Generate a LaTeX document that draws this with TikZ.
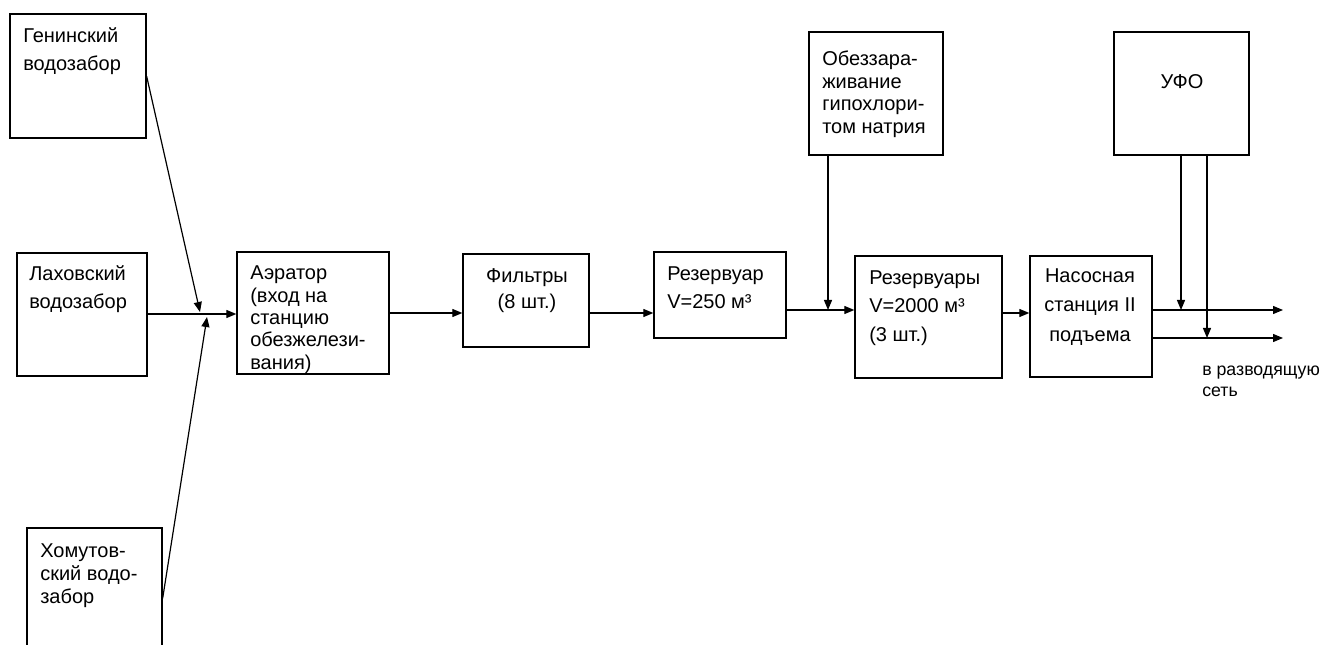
\documentclass[tikz,border=0pt]{standalone}
\usepackage{fontspec}
\setmainfont{Liberation Sans}
\usetikzlibrary{arrows.meta,fit}
\tikzset{
  box/.style={draw, line width=1pt, inner sep=0pt},
  txt/.style={inner sep=0pt, anchor=base west, align=left, font=\fontsize{15}{#1}\selectfont},
  txt/.default=18,
  ctxt/.style={inner sep=0pt, anchor=base, align=center, font=\fontsize{15}{#1}\selectfont},
  ctxt/.default=18,
  arr/.style={line width=0.9pt, -{Triangle[length=7.5pt,width=6pt]}}
}
\begin{document}
\begin{tikzpicture}[x=0.75pt,y=-0.75pt]
\useasboundingbox (0,0) rectangle (1321,645);
% boxes
\node[box, fit={(10,14)(146,138)}] (gen) {};
\node[box, fit={(17,253)(147,376)}] (lax) {};
\node[box, fit={(27,528)(162,660)}] (hom) {};
\node[box, fit={(237,252)(389,374)}] (aer) {};
\node[box, fit={(463,254)(589,347)}] (fil) {};
\node[box, fit={(654,252)(786,338)}] (res1) {};
\node[box, fit={(809,32)(943,155)}] (obz) {};
\node[box, fit={(855,256)(1002,378)}] (res2) {};
\node[box, fit={(1030,256)(1152,377)}] (nas) {};
\node[box, fit={(1114,32)(1249,155)}] (ufo) {};
% texts (anchored at the baseline of the last line)
\node[txt=21] (tgen) at (23,71) {Генинский\\водозабор};
\node[txt=21] (tlax) at (29,309) {Лаховский\\водозабор};
\node[txt=17.25] (thom) at (40,603) {Хомутов-\\ский водо-\\забор};
\node[txt=16.75] (taer) at (250,369) {Аэратор\\(вход на\\станцию\\обезжелези-\\вания)};
\node[ctxt=19.5] (tfil) at (527,309) {Фильтры\\(8 шт.)};
\node[txt=21] (tres1) at (667,309) {Резервуар\\V=250 м³};
\node[txt=16.9] (tobz) at (822,133.5) {Обеззара-\\живание\\гипохлори-\\том натрия};
\node[ctxt] (tufo) at (1182,89) {УФО};
\node[txt=21.75] (tres2) at (869,342) {Резервуары\\V=2000 м³\\(3 шт.)};
\node[ctxt=22] (tnas) at (1090,341) {Насосная\\станция II\\подъема};
\node[inner sep=0pt, anchor=base west, align=left, font=\fontsize{13.3}{16.5}\selectfont] (tout) at (1202,397) {в разводящую\\сеть};
% junction and helper coordinates
\coordinate (j1) at (200,312);
\coordinate (j2) at (207,317);
\coordinate (m0) at (0,314);
\coordinate (m1) at (0,313);
\coordinate (m2) at (0,310);
\coordinate (m3) at (0,338);
\coordinate (obzx) at (828,0);
\coordinate (ufo1) at (1181,0);
\coordinate (ufo2) at (1207,0);
\coordinate (end1) at (1283,310);
\coordinate (end2) at (1283,338);
% connectors
\draw[arr] ([yshift=-47.25pt]gen.north east) -- (j1);
\draw[arr] ([yshift=-53.25pt]hom.north east) -- (j2);
\draw[arr] (lax.east |- m0) -- (aer.west |- m0);
\draw[arr] (aer.east |- m1) -- (fil.west |- m1);
\draw[arr] (fil.east |- m1) -- (res1.west |- m1);
\draw[arr] (res1.east |- m2) -- (res2.west |- m2);
\draw[arr] (obzx |- obz.south) -- (obzx |- m2);
\draw[arr] (res2.east |- m1) -- (nas.west |- m1);
\draw[arr] (nas.east |- m2) -- (end1);
\draw[arr] (nas.east |- m3) -- (end2);
\draw[arr] (ufo1 |- ufo.south) -- (ufo1 |- m2);
\draw[arr] (ufo2 |- ufo.south) -- (ufo2 |- m3);
\end{tikzpicture}
\end{document}
